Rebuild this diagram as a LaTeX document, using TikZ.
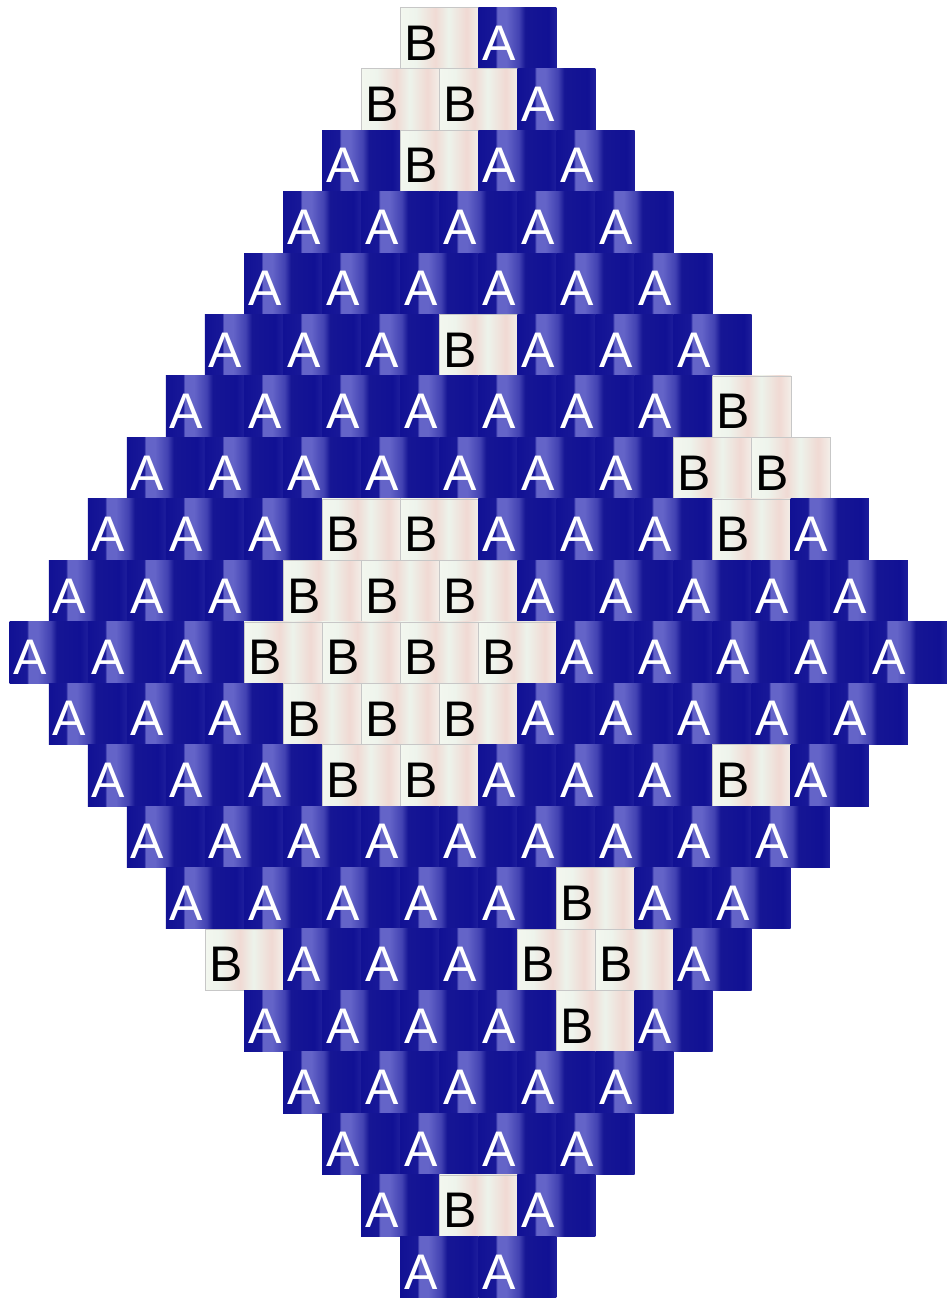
\documentclass[tikz,border=0pt]{standalone}
\usepackage{fontspec}
\setmainfont{Liberation Sans}
\definecolor{adk}{HTML}{111194}
\definecolor{adktwo}{HTML}{181898}
\definecolor{alt}{HTML}{6464C8}
\definecolor{amd}{HTML}{4242B2}
\definecolor{adkthree}{HTML}{161694}
\definecolor{aend}{HTML}{1E1E9C}
\definecolor{bwa}{HTML}{F3F7EF}
\definecolor{bwb}{HTML}{EEF4EC}
\definecolor{bpa}{HTML}{F0DAD4}
\definecolor{bwc}{HTML}{EDF3EB}
\definecolor{bpb}{HTML}{F0D9D3}
\definecolor{bwd}{HTML}{F3EEE8}
\pgfdeclarehorizontalshading{shadeA}{100bp}{color(0bp)=(adk); color(25bp)=(adk); color(36bp)=(adktwo); color(37bp)=(alt); color(43bp)=(alt); color(51bp)=(amd); color(55bp)=(adkthree); color(70bp)=(adk); color(75bp)=(aend); color(100bp)=(aend)}
\pgfdeclarehorizontalshading{shadeB}{100bp}{color(0bp)=(bwa); color(25bp)=(bwa); color(35bp)=(bwb); color(47.5bp)=(bpa); color(56bp)=(bwc); color(67.5bp)=(bpb); color(75bp)=(bwd); color(100bp)=(bwd)}
\tikzset{
  tile/.style={anchor=north west, inner ysep=0pt, inner xsep=4pt, text width=70.1pt,
    align=left, text height=52.8pt, text depth=8.65pt, font=\fontsize{50}{50}\selectfont},
  tA/.style={tile, shading=shadeA, text=white},
  tB/.style={tile, shading=shadeB, text=black, draw=black!22, line width=0.5pt}
}
\begin{document}
\begin{tikzpicture}[x=1pt,y=-1pt]
\useasboundingbox (0,0) rectangle (946,1298);
\fill[white] (0,0) rectangle (946,1298);
\foreach \row [count=\r from 0] in {
  {B,A},
  {B,B,A},
  {A,B,A,A},
  {A,A,A,A,A},
  {A,A,A,A,A,A},
  {A,A,A,B,A,A,A},
  {A,A,A,A,A,A,A,B},
  {A,A,A,A,A,A,A,B,B},
  {A,A,A,B,B,A,A,A,B,A},
  {A,A,A,B,B,B,A,A,A,A,A},
  {A,A,A,B,B,B,B,A,A,A,A,A},
  {A,A,A,B,B,B,A,A,A,A,A},
  {A,A,A,B,B,A,A,A,B,A},
  {A,A,A,A,A,A,A,A,A},
  {A,A,A,A,A,B,A,A},
  {B,A,A,A,B,B,A},
  {A,A,A,A,B,A},
  {A,A,A,A,A},
  {A,A,A,A},
  {A,B,A},
  {A,A}}{
  \pgfmathsetmacro{\xo}{9.5+39.05*abs(\r-10)}
  \pgfmathsetmacro{\yo}{7+61.45*\r}
  \foreach \t [count=\c from 0] in \row {
    \node[t\t] (t-\r-\c) at ({\xo+78.1*\c},\yo) {\t};
  }
}
\end{tikzpicture}
\end{document}
